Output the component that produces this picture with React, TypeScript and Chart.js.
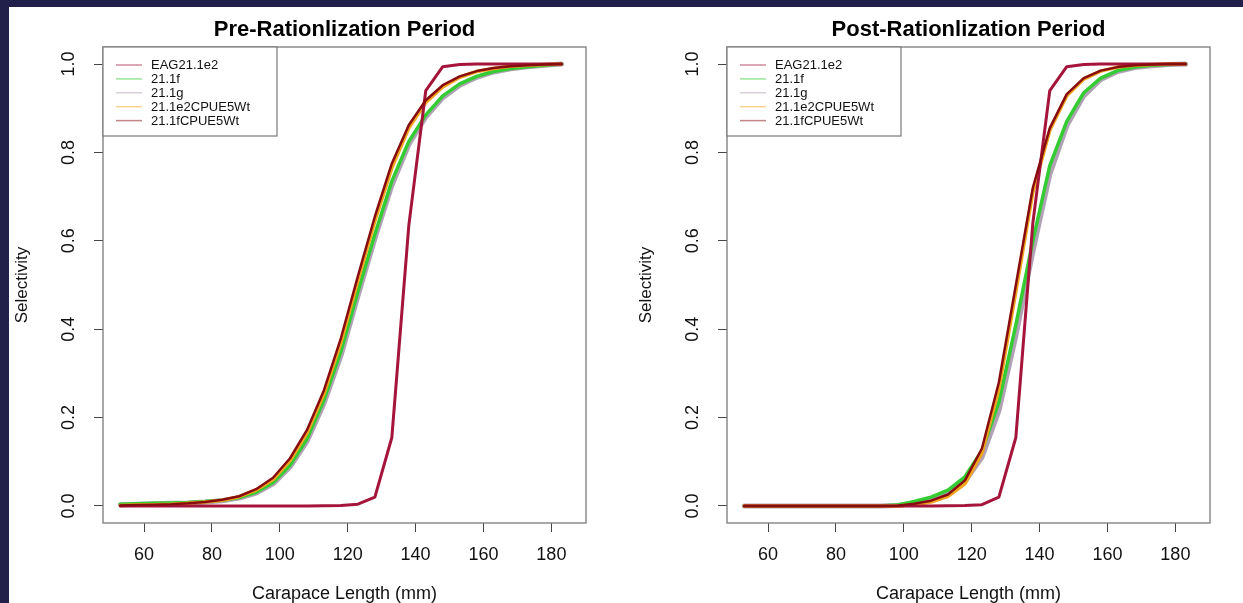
import React, { useEffect, useRef } from 'react';
import { Chart, registerables } from 'chart.js';

Chart.register(...registerables);

// ---- data ----
const lengths = [53, 58, 63, 68, 73, 78, 83, 88, 93, 98, 103, 108, 113, 118, 123, 128, 133, 138, 143, 148, 153, 158, 163, 168, 173, 178, 183];
const seriesNames = ['EAG21.1e2', '21.1f', '21.1g', '21.1e2CPUE5Wt', '21.1fCPUE5Wt'];
const seriesColors = ['#a5143a', '#33cc33', '#b0a2b4', '#f2a51e', '#860c10'];
const seriesWidths = [3, 3.5, 5, 3.5, 2.5];
const seriesOrder = [2, 4, 5, 3, 1];
const xTickValues = [60, 80, 100, 120, 140, 160, 180];
const yTickValues = [0, 0.2, 0.4, 0.6, 0.8, 1.0];

const preEAG = [0, 0, 0, 0, 0, 0, 0, 0, 0, 0, 0, 0, 0.0005, 0.001, 0.004, 0.02, 0.155, 0.635, 0.94, 0.994, 0.999, 1, 1, 1, 1, 1, 1];
const pre21f = [0.004, 0.005, 0.006, 0.007, 0.008, 0.01, 0.013, 0.019, 0.031, 0.053, 0.092, 0.152, 0.24, 0.35, 0.485, 0.615, 0.735, 0.825, 0.885, 0.928, 0.955, 0.972, 0.983, 0.99, 0.994, 0.997, 1.0];
const pre21g = [0.003, 0.004, 0.005, 0.006, 0.007, 0.009, 0.012, 0.018, 0.029, 0.05, 0.088, 0.146, 0.232, 0.34, 0.475, 0.605, 0.725, 0.818, 0.88, 0.924, 0.952, 0.97, 0.982, 0.989, 0.994, 0.997, 1.0];
const pre21e2CPUE = [0.001, 0.002, 0.003, 0.004, 0.006, 0.009, 0.013, 0.021, 0.036, 0.06, 0.103, 0.165, 0.254, 0.37, 0.51, 0.645, 0.765, 0.855, 0.913, 0.948, 0.97, 0.983, 0.99, 0.995, 0.997, 0.999, 1.0];
const pre21fCPUE = [0.001, 0.002, 0.003, 0.004, 0.006, 0.009, 0.014, 0.022, 0.038, 0.064, 0.108, 0.172, 0.262, 0.38, 0.52, 0.655, 0.775, 0.862, 0.918, 0.952, 0.972, 0.984, 0.991, 0.995, 0.997, 0.999, 1.0];

const postEAG = [0, 0, 0, 0, 0, 0, 0, 0, 0, 0, 0, 0, 0.0005, 0.001, 0.003, 0.02, 0.155, 0.64, 0.94, 0.994, 0.999, 1, 1, 1, 1, 1, 1];
const post21f = [0, 0, 0, 0, 0, 0, 0, 0, 0, 0.002, 0.01, 0.02, 0.036, 0.066, 0.125, 0.235, 0.41, 0.6, 0.77, 0.87, 0.935, 0.968, 0.985, 0.993, 0.997, 0.999, 1.0];
const post21g = [0, 0, 0, 0, 0, 0, 0, 0, 0, 0.001, 0.006, 0.014, 0.028, 0.055, 0.11, 0.215, 0.385, 0.575, 0.75, 0.86, 0.928, 0.965, 0.983, 0.992, 0.996, 0.999, 1.0];
const post21e2CPUE = [0, 0, 0, 0, 0, 0, 0, 0, 0, 0, 0.003, 0.009, 0.022, 0.05, 0.12, 0.265, 0.485, 0.71, 0.85, 0.928, 0.966, 0.984, 0.993, 0.997, 0.999, 1, 1];
const post21fCPUE = [0, 0, 0, 0, 0, 0, 0, 0, 0, 0.0005, 0.005, 0.012, 0.026, 0.058, 0.13, 0.28, 0.5, 0.72, 0.855, 0.932, 0.968, 0.985, 0.993, 0.997, 0.999, 1, 1];

const preSeries = [preEAG, pre21f, pre21g, pre21e2CPUE, pre21fCPUE];
const postSeries = [postEAG, post21f, post21g, post21e2CPUE, post21fCPUE];

const FONT = 'Liberation Sans, Arial, Helvetica, sans-serif';

const boxPlugin = {
  id: 'rBoxLegend',
  afterDraw(chart: any) {
    const { ctx, chartArea } = chart;
    ctx.save();
    // plot box
    ctx.strokeStyle = '#7a7a7a';
    ctx.lineWidth = 1.3;
    ctx.strokeRect(chartArea.left, chartArea.top, chartArea.right - chartArea.left, chartArea.bottom - chartArea.top);
    // legend
    const x0 = chartArea.left;
    const y0 = chartArea.top;
    ctx.fillStyle = '#ffffff';
    ctx.fillRect(x0, y0, 174, 89);
    ctx.strokeStyle = '#7a7a7a';
    ctx.lineWidth = 1.2;
    ctx.strokeRect(x0, y0, 174, 89);
    ctx.font = '13px ' + FONT;
    ctx.textBaseline = 'middle';
    ctx.textAlign = 'left';
    chart.data.datasets.forEach((ds: any, i: number) => {
      const y = y0 + 18 + i * 13.9;
      ctx.globalAlpha = 0.5;
      ctx.strokeStyle = ds.borderColor;
      ctx.lineWidth = 1.5;
      ctx.beginPath();
      ctx.moveTo(x0 + 13, y);
      ctx.lineTo(x0 + 39, y);
      ctx.stroke();
      ctx.globalAlpha = 1;
      ctx.fillStyle = '#111';
      ctx.fillText(ds.label, x0 + 48, y + 0.5);
    });
    ctx.restore();
  },
};

function Panel({ title, series, left }: { title: string; series: number[][]; left: number }) {
  const ref = useRef<HTMLCanvasElement>(null);
  useEffect(() => {
    const chart = new Chart(ref.current as HTMLCanvasElement, {
      type: 'line',
      data: {
        datasets: seriesNames.map((name, i) => ({
          label: name,
          data: lengths.map((x, j) => ({ x, y: series[i][j] })),
          borderColor: seriesColors[i],
          backgroundColor: seriesColors[i],
          borderWidth: seriesWidths[i],
          order: seriesOrder[i],
          pointRadius: 0,
          tension: 0,
          fill: false,
          borderJoinStyle: 'round',
          borderCapStyle: 'round',
        })),
      },
      options: {
        responsive: false,
        animation: false,
        events: [],
        layout: { padding: { left: 0, right: 33, top: 0, bottom: 0 } },
        plugins: {
          legend: { display: false },
          tooltip: { enabled: false },
          title: {
            display: true,
            text: title,
            fullSize: false,
            color: '#000',
            font: { family: FONT, size: 22, weight: 'bold', lineHeight: 1.2 },
            padding: { top: 16.3, bottom: 4.3 },
          },
        },
        scales: {
          x: {
            type: 'linear',
            min: 47.9,
            max: 190.2,
            afterBuildTicks: (s: any) => {
              s.ticks = xTickValues.map((value) => ({ value }));
            },
            afterFit: (s: any) => {
              s.height = 80;
            },
            grid: { display: true, drawOnChartArea: false, drawTicks: true, tickLength: 9, color: '#444', lineWidth: 1 },
            border: { display: false },
            ticks: {
              autoSkip: false,
              maxRotation: 0,
              padding: 12,
              color: '#111',
              font: { family: FONT, size: 18 },
              callback: (v: any) => String(v),
            },
            title: {
              display: true,
              text: 'Carapace Length (mm)',
              color: '#111',
              font: { family: FONT, size: 18, lineHeight: 1 },
              padding: { top: 0, bottom: 0 },
            },
          },
          y: {
            type: 'linear',
            min: -0.0385,
            max: 1.0385,
            afterBuildTicks: (s: any) => {
              s.ticks = yTickValues.map((value) => ({ value }));
            },
            afterFit: (s: any) => {
              s.width = 103;
            },
            grid: { display: true, drawOnChartArea: false, drawTicks: true, tickLength: 9, color: '#444', lineWidth: 1 },
            border: { display: false },
            ticks: {
              autoSkip: false,
              minRotation: 90,
              maxRotation: 90,
              crossAlign: 'center',
              padding: 12,
              color: '#111',
              font: { family: FONT, size: 18 },
              callback: (v: any) => Number(v).toFixed(1),
            },
            title: {
              display: true,
              text: 'Selectivity',
              color: '#111',
              font: { family: FONT, size: 17, lineHeight: 1 },
              padding: { top: 13.5, bottom: 0 },
            },
          },
        },
      } as any,
      plugins: [boxPlugin],
    });
    return () => chart.destroy();
  }, [title, series]);
  return (
    <canvas
      ref={ref}
      width={619}
      height={603}
      style={{ position: 'absolute', left, top: 0, width: 619, height: 603 }}
    />
  );
}

export default function App() {
  return (
    <div style={{ position: 'fixed', left: 0, top: 0, width: 1243, height: 603, background: '#20204a', overflow: 'hidden' }}>
      <div style={{ position: 'absolute', left: 9, top: 7, right: 0, bottom: 0, background: '#ffffff' }} />
      <Panel title="Pre-Rationlization Period" series={preSeries} left={0} />
      <Panel title="Post-Rationlization Period" series={postSeries} left={624} />
    </div>
  );
}
